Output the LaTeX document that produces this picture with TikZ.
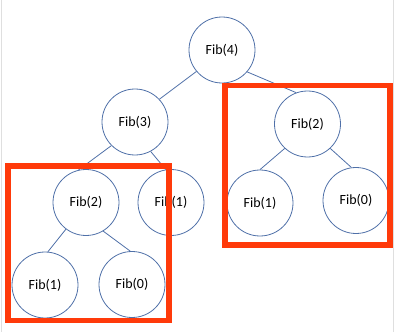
\documentclass[tikz,border=0pt]{standalone}
\usepackage{fontspec}
\setmainfont{Carlito}
\definecolor{nodeblue}{RGB}{79,112,168}
\definecolor{boxred}{RGB}{255,58,10}
\tikzset{
	fib/.style = {circle, draw = nodeblue, line width = 0.8pt, minimum size = 66pt, inner sep = 0pt, font = \fontsize{14}{16}\selectfont},
	link/.style = {draw = nodeblue, line width = 0.8pt},
	subtree/.style = {draw = boxred, line width = 5.5pt}
}

\begin{document}
\begin{tikzpicture}[x = 1pt, y = -1pt]
	\useasboundingbox (0,0) rectangle (400,332);
	\draw[gray!25, line width = 1pt] (1,0) -- (1,332);
	\draw[gray!25, line width = 1pt] (393.5,0) -- (393.5,332);
	\node[fib] (f4)   at (222,50)    {Fib(4)};
	\node[fib] (f3)   at (135,122)   {Fib(3)};
	\node[fib] (f2r)  at (307.5,124) {Fib(2)};
	\node[fib] (f2l)  at (86,202.5)  {Fib(2)};
	\node[fib] (f1m)  at (171,202.5) {Fib(1)};
	\node[fib] (f1r)  at (260,203)   {Fib(1)};
	\node[fib] (f0r)  at (356,200.5) {Fib(0)};
	\node[fib] (f1bl) at (45,285)    {Fib(1)};
	\node[fib] (f0b)  at (132,284.5) {Fib(0)};
	\draw[link] (f4.220) -- (f3.43);
	\draw[link] (f4.-41) -- (f2r.110);
	\draw[link] (f3.225) -- (f2l.103);
	\draw[link] (f3.-62) -- (f1m.99);
	\draw[link] (f2l.233) -- (f1bl.85);
	\draw[link] (f2l.-59) -- (f0b.93);
	\draw[link] (f2r.227) -- (f1r.90);
	\draw[link] (f2r.-47) -- (f0r.98);
	\draw[subtree] (8,166) rectangle (169,320.5);
	\draw[subtree] (225,85.5) rectangle (390,245);
\end{tikzpicture}
\end{document}
